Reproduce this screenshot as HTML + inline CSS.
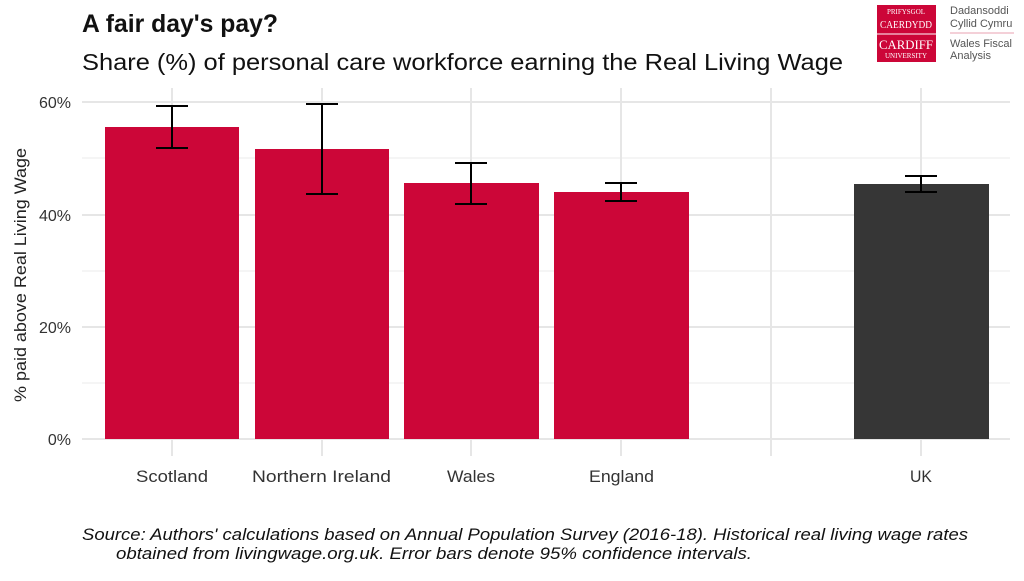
<!DOCTYPE html>
<html><head><style>
body{margin:0;background:#fff;width:1024px;height:576px;overflow:hidden}
</style></head><body>
<svg width="1024" height="576" xmlns="http://www.w3.org/2000/svg" font-family="Liberation Sans, sans-serif">
<text x="82" y="32" font-size="25" font-weight="bold" fill="#111" textLength="196" lengthAdjust="spacingAndGlyphs">A fair day's pay?</text>
<text x="82" y="70" font-size="23" fill="#111" textLength="761" lengthAdjust="spacingAndGlyphs">Share (%) of personal care workforce earning the Real Living Wage</text>
<g stroke="#ebebeb" stroke-width="1">
<line x1="82" x2="1010" y1="383" y2="383"/><line x1="82" x2="1010" y1="271" y2="271"/><line x1="82" x2="1010" y1="158" y2="158"/>
</g>
<g stroke="#e6e6e6" stroke-width="2">
<line x1="82" x2="1010" y1="439" y2="439"/><line x1="82" x2="1010" y1="327" y2="327"/><line x1="82" x2="1010" y1="215" y2="215"/><line x1="82" x2="1010" y1="102" y2="102"/>
<line x1="172" x2="172" y1="88" y2="456"/><line x1="322" x2="322" y1="88" y2="456"/><line x1="471" x2="471" y1="88" y2="456"/><line x1="621" x2="621" y1="88" y2="456"/><line x1="771" x2="771" y1="88" y2="456"/><line x1="921" x2="921" y1="88" y2="456"/>
</g>
<g fill="#cc0638">
<rect x="105" y="127" width="134" height="312"/><rect x="255" y="149" width="134" height="290"/><rect x="404" y="183" width="135" height="256"/><rect x="554" y="192" width="135" height="247"/>
</g>
<rect x="854" y="184" width="135" height="255" fill="#363636"/>
<g stroke="#000" stroke-width="2" fill="none">
<path d="M156 106H188M172 106V148M156 148H188"/>
<path d="M306 104H338M322 104V194M306 194H338"/>
<path d="M455 163H487M471 163V204M455 204H487"/>
<path d="M605 183H637M621 183V201M605 201H637"/>
<path d="M905 176H937M921 176V192M905 192H937"/>
</g>
<g font-size="16" fill="#333" text-anchor="end">
<text x="71" y="445">0%</text><text x="71" y="333">20%</text><text x="71" y="221">40%</text><text x="71" y="108">60%</text>
</g>
<g font-size="17" fill="#333">
<text x="136" y="482" textLength="72" lengthAdjust="spacingAndGlyphs">Scotland</text>
<text x="252" y="482" textLength="139" lengthAdjust="spacingAndGlyphs">Northern Ireland</text>
<text x="447" y="482" textLength="48" lengthAdjust="spacingAndGlyphs">Wales</text>
<text x="589" y="482" textLength="65" lengthAdjust="spacingAndGlyphs">England</text>
<text x="910" y="482" textLength="22" lengthAdjust="spacingAndGlyphs">UK</text>
</g>
<text transform="translate(26,402) rotate(-90)" font-size="17" fill="#222" textLength="254" lengthAdjust="spacingAndGlyphs">% paid above Real Living Wage</text>
<text x="82" y="540" font-size="17" font-style="italic" fill="#111" textLength="886" lengthAdjust="spacingAndGlyphs">Source: Authors' calculations based on Annual Population Survey (2016-18). Historical real living wage rates</text>
<text x="116" y="559" font-size="17" font-style="italic" fill="#111" textLength="636" lengthAdjust="spacingAndGlyphs">obtained from livingwage.org.uk. Error bars denote 95% confidence intervals.</text>
<rect x="877" y="5" width="59" height="57" fill="#cc0638"/>
<line x1="877" y1="34" x2="936" y2="34" stroke="#fff" stroke-width="1"/>
<g fill="#fff" text-anchor="middle" font-family="Liberation Serif, serif">
<text x="906" y="14" font-size="7">PRIFYSGOL</text><text x="906" y="28" font-size="11" textLength="52" lengthAdjust="spacingAndGlyphs">CAERDYDD</text>
<text x="906" y="49" font-size="13" textLength="54" lengthAdjust="spacingAndGlyphs">CARDIFF</text><text x="906" y="58" font-size="7">UNIVERSITY</text>
</g>
<g font-size="11" fill="#555">
<text x="950" y="14">Dadansoddi</text><text x="950" y="27">Cyllid Cymru</text><text x="950" y="47">Wales Fiscal</text><text x="950" y="59">Analysis</text>
</g>
<line x1="950" y1="33" x2="1014" y2="33" stroke="#e8a0b0" stroke-width="1"/>
</svg>
</body></html>
